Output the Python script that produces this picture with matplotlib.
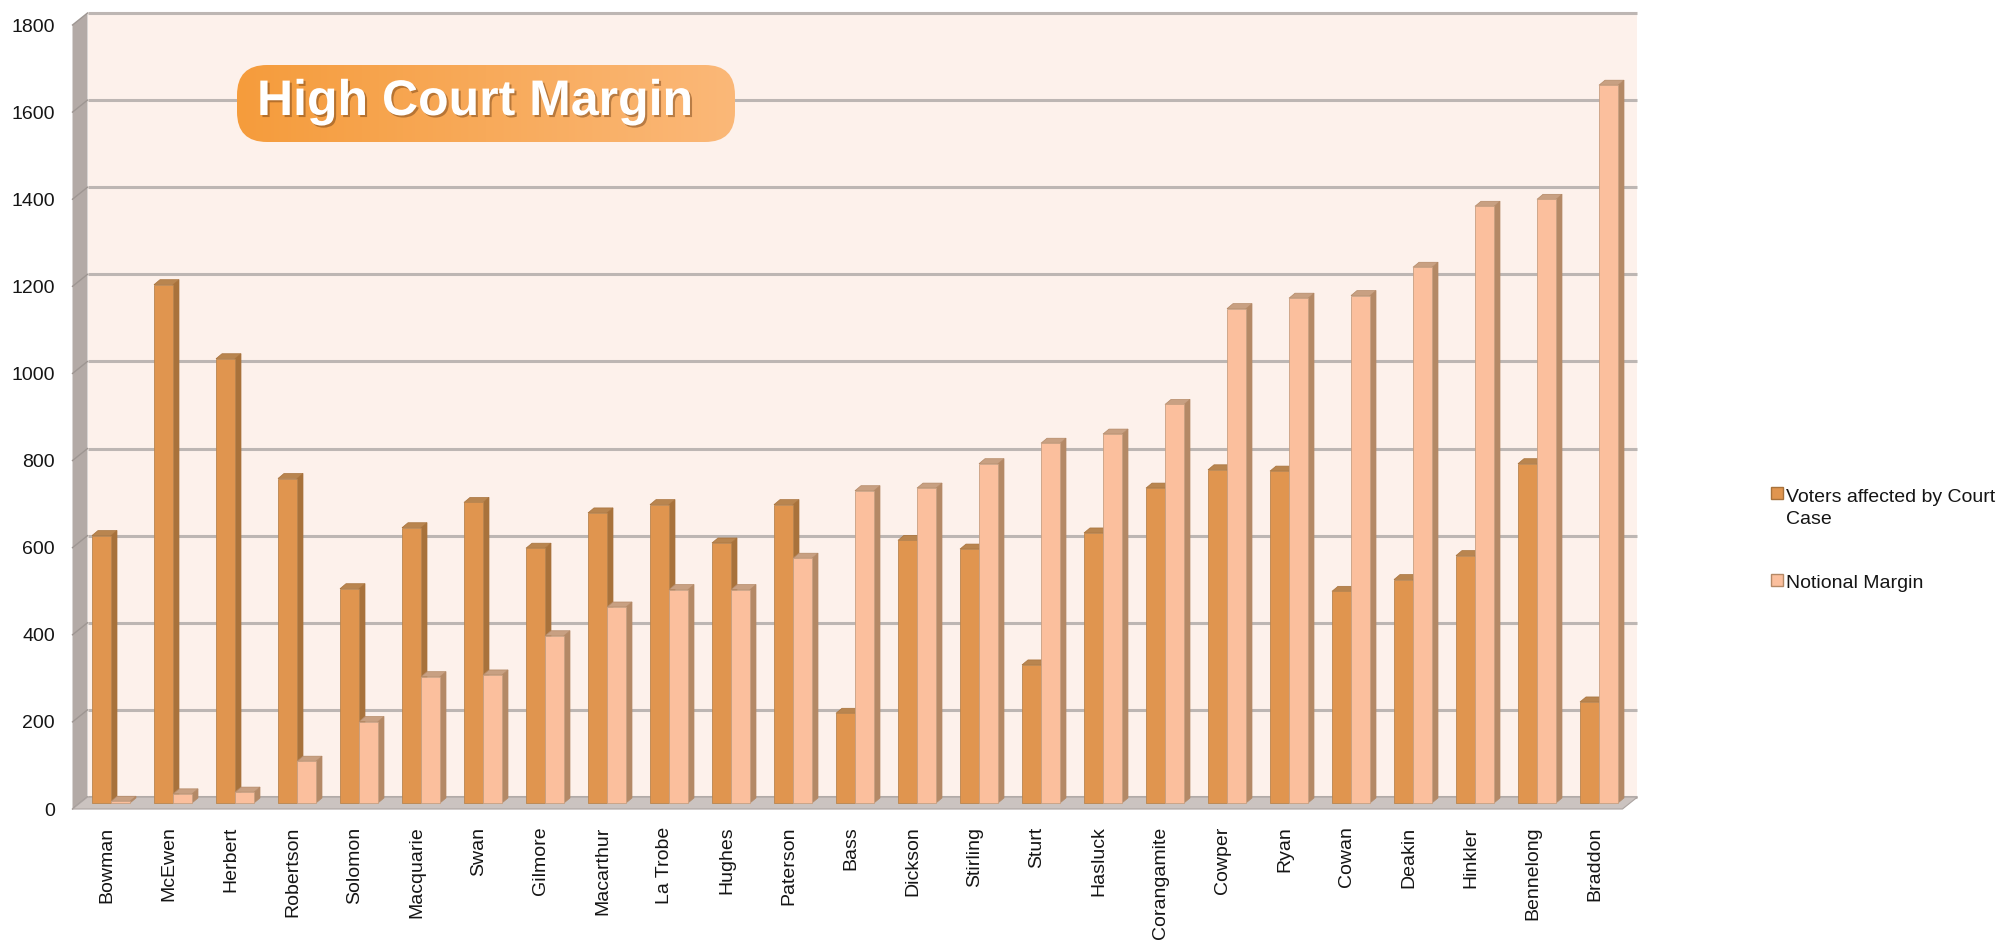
import matplotlib
matplotlib.use("Agg")
import matplotlib.pyplot as plt
import matplotlib.patheffects as pe
import numpy as np
from matplotlib import transforms
from matplotlib.patches import FancyBboxPatch, Polygon, Rectangle

# data
DIVISIONS = [
    "Bowman", "McEwen", "Herbert", "Robertson", "Solomon", "Macquarie", "Swan",
    "Gilmore", "Macarthur", "La Trobe", "Hughes", "Paterson", "Bass", "Dickson",
    "Stirling", "Sturt", "Hasluck", "Corangamite", "Cowper", "Ryan", "Cowan",
    "Deakin", "Hinkler", "Bennelong", "Braddon",
]
VOTERS_AFFECTED = [614, 1190, 1020, 745, 492, 632, 690, 585, 666, 685, 597, 685,
                   206, 603, 583, 317, 620, 723, 765, 762, 486, 513, 568, 779, 232]
NOTIONAL_MARGIN = [4, 21, 25, 96, 187, 290, 294, 384, 450, 490, 490, 562,
                   717, 723, 779, 826, 847, 915, 1135, 1159, 1165, 1230, 1370, 1386, 1648]
SERIES_NAMES = ["Voters affected by Court\nCase", "Notional Margin"]
Y_TICKS = [0, 200, 400, 600, 800, 1000, 1200, 1400, 1600, 1800]

# face colours (front, top, side) per series
STYLES = [
    ("#E0954F", "#B9854F", "#A8723B"),
    ("#FBBF9D", "#C8A082", "#B48966"),
]
FONT = ["Liberation Sans", "DejaVu Sans"]

W, H, DPI = 2007, 946, 100
fig = plt.figure(figsize=(W / DPI, H / DPI), dpi=DPI)
fig.patch.set_facecolor("white")

# axes = the plane the bars stand on (mid depth of the 3D box)
AX_L, AX_B, AX_W, AX_H = 80, 803, 1550, 784
ax = fig.add_axes([AX_L / W, 1 - AX_B / H, AX_W / W, AX_H / H])
n = len(DIVISIONS)
ax.set_xlim(-0.5, n - 0.5)
ax.set_ylim(0, Y_TICKS[-1])
ax.patch.set_visible(False)
for sp in ax.spines.values():
    sp.set_visible(False)

px_x = n / AX_W           # data units per pixel
px_y = Y_TICKS[-1] / AX_H
DEPTH = (7.5, 6)          # bar plane -> back wall offset in px

x0, x1 = -0.5, n - 0.5
bx, by = DEPTH[0] * px_x, DEPTH[1] * px_y


def add(poly, color, z, ec="none", lw=0):
    ax.add_patch(Polygon(poly, closed=True, facecolor=color, edgecolor=ec,
                         linewidth=lw, zorder=z, clip_on=False))


# back wall, left wall, floor
add([(x0 + bx, by), (x1 + bx, by), (x1 + bx, Y_TICKS[-1] + by),
     (x0 + bx, Y_TICKS[-1] + by)], "#FDF1EB", 0)
add([(x0 - bx, -by), (x0 + bx, by), (x0 + bx, Y_TICKS[-1] + by),
     (x0 - bx, Y_TICKS[-1] - by)], "#B3AAA6", 1)
for v in Y_TICKS:
    ax.plot([x0 + bx, x1 + bx], [v + by, v + by], color="#BDB6B3", lw=2.2,
            zorder=1, clip_on=False, solid_capstyle="butt")
    ax.plot([x0 - bx, x0 + bx], [v - by, v + by], color="#9E9692", lw=1.0,
            zorder=1.5, clip_on=False)
add([(x0 - bx, -by), (x1 - bx, -by), (x1 + bx, by), (x0 + bx, by)], "#CBC3C0", 2,
    ec="#ABA3A0", lw=0.8)

# bars with top and side faces
bw = 19 * px_x
dx, dy = 6 * px_x, 5 * px_y
for i in range(n):
    for s, vals in enumerate([VOTERS_AFFECTED, NOTIONAL_MARGIN]):
        v = vals[i]
        left = i - bw + s * bw
        right = left + bw
        front, top, side = STYLES[s]
        z = 3 + s
        add([(right, 0), (right + dx, dy), (right + dx, v + dy), (right, v)], side, z,
            ec=side, lw=0.5)
        add([(left, v), (right, v), (right + dx, v + dy), (left + dx, v + dy)], top, z,
            ec=side, lw=0.5)
        add([(left, 0), (right, 0), (right, v), (left, v)], front, z, ec=top, lw=0.6)

# ticks sit on the front plane
ax.set_yticks(Y_TICKS)
ax.set_yticklabels([str(v) for v in Y_TICKS], fontsize=14, family=FONT, color="#151515")
ax.tick_params(axis="y", length=0, pad=18)
ax.set_xticks(range(n))
ax.set_xticklabels(DIVISIONS, rotation=90, ha="center", va="top", fontsize=14,
                   family=FONT, color="#151515")
ax.tick_params(axis="x", length=0, pad=17)
for lab in ax.get_yticklabels():
    lab.set_transform(lab.get_transform()
                      + transforms.ScaledTranslation(0, -6 / DPI, fig.dpi_scale_trans))
for lab in ax.get_xticklabels():
    lab.set_transform(lab.get_transform()
                      + transforms.ScaledTranslation(-4.5 / DPI, 0, fig.dpi_scale_trans))

# legend
for k, (name, (front, top, side)) in enumerate(zip(SERIES_NAMES, STYLES)):
    cy = [493, 580][k]
    fig.add_artist(Rectangle(((1771) / W, 1 - (cy + 6) / H), 12 / W, 12 / H,
                             facecolor=front, edgecolor=side, lw=1,
                             transform=fig.transFigure))
    for j, line in enumerate(name.split("\n")):
        fig.text(1786 / W, 1 - (cy + 4 + 23 * j) / H, line, fontsize=14, family=FONT,
                 color="#151515", va="center", ha="left")

# title badge
TX, TY, TW, TH = 237, 65, 498, 77
tax = fig.add_axes([TX / W, 1 - (TY + TH) / H, TW / W, TH / H])
tax.set_xlim(0, TW)
tax.set_ylim(0, TH)
tax.axis("off")
badge = FancyBboxPatch((0, 0), TW, TH, boxstyle="round,pad=0,rounding_size=30",
                       facecolor="none", edgecolor="none")
tax.add_patch(badge)
c0 = np.array(matplotlib.colors.to_rgb("#F59C3C"))
c1 = np.array(matplotlib.colors.to_rgb("#FBB878"))
t = np.linspace(0, 1, 256)
grad = (c0[None, :] * (1 - t[:, None]) + c1[None, :] * t[:, None])[None, :, :]
img = tax.imshow(grad, extent=[0, TW, 0, TH], aspect="auto", origin="lower")
img.set_clip_path(badge)
tax.text(20, 27, "High Court Margin", fontsize=36, fontweight="bold", family=FONT,
         color="white", va="baseline", ha="left",
         path_effects=[pe.withSimplePatchShadow(offset=(1.5, -1.5),
                                                shadow_rgbFace="#6A3A12", alpha=0.45)])

fig.savefig("out.png", dpi=DPI, facecolor="white")
